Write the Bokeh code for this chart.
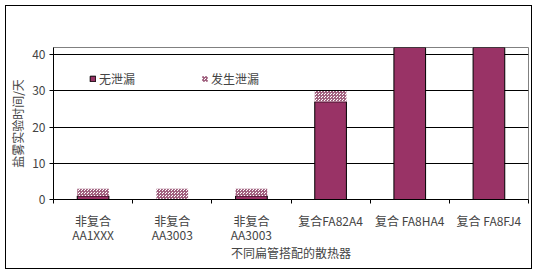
from bokeh.plotting import figure
from bokeh.layouts import column
from bokeh.models import ColumnDataSource, FixedTicker, Legend, LegendItem, Range1d
from bokeh.embed import file_html
from bokeh.resources import INLINE

categories = ["非复合\nAA1XXX", "非复合\nAA3003", "非复合\nAA3003", "复合FA82A4", "复合 FA8HA4", "复合 FA8FJ4"]
no_leak = [1, 0, 1, 27, 42, 42]
leak = [2, 3, 2, 3, 0, 0]
y_ticks = [0, 10, 20, 30, 40]

xs = list(range(len(categories)))
top1 = no_leak
top2 = [a + b for a, b in zip(no_leak, leak)]
src = ColumnDataSource(dict(x=xs, b1=[0] * len(xs), t1=top1, b2=top1, t2=top2))

FONT = "Noto Sans CJK SC"
p = figure(width=525, height=262, output_backend="svg", toolbar_location=None,
           x_range=Range1d(-0.5, len(categories) - 0.5), y_range=Range1d(0, 42),
           min_border_left=45, min_border_right=3, min_border_top=41, min_border_bottom=69)

r1 = p.vbar(x="x", bottom="b1", top="t1", width=0.4, source=src,
            fill_color="#993366", line_color="black", line_width=1)
r2 = p.vbar(x="x", bottom="b2", top="t2", width=0.4, source=src,
            fill_color="white", line_color=None,
            hatch_pattern="criss_cross", hatch_scale=3, hatch_color="#a0607e", hatch_weight=1)

p.outline_line_color = "#808080"
p.xgrid.grid_line_color = None
p.ygrid.grid_line_color = "black"
p.ygrid.grid_line_width = 1

p.yaxis.ticker = FixedTicker(ticks=y_ticks)
p.yaxis.axis_label = "盐雾实验时间/天"
p.yaxis.axis_label_text_font = FONT
p.yaxis.axis_label_text_font_size = "12px"
p.yaxis.axis_label_text_font_style = "normal"
p.yaxis.axis_label_standoff = 3
p.yaxis.major_label_text_font = FONT
p.yaxis.major_label_text_font_size = "12px"
p.yaxis.major_label_standoff = 4
p.yaxis.minor_tick_line_color = None
p.yaxis.major_tick_out = 4
p.yaxis.major_tick_in = 0
p.yaxis.axis_line_color = "black"

p.xaxis.ticker = FixedTicker(ticks=xs, minor_ticks=[i - 0.5 for i in range(len(categories) + 1)])
p.xaxis.major_label_overrides = {i: c for i, c in zip(xs, categories)}
p.xaxis.major_label_text_font = FONT
p.xaxis.major_label_text_font_size = "12px"
p.xaxis.major_label_text_line_height = 0.85
p.xaxis.major_label_standoff = 6
p.xaxis.major_tick_line_color = None
p.xaxis.minor_tick_out = 4
p.xaxis.minor_tick_in = 0
p.xaxis.minor_tick_line_color = "black"
p.xaxis.axis_line_color = "black"
p.xaxis.axis_label = "不同扁管搭配的散热器"
p.xaxis.axis_label_text_font = FONT
p.xaxis.axis_label_text_font_size = "12px"
p.xaxis.axis_label_text_font_style = "normal"
p.xaxis.axis_label_standoff = -2

legend = Legend(items=[LegendItem(label="无泄漏", renderers=[r1]),
                       LegendItem(label="发生泄漏", renderers=[r2])],
                location=(36, 112), orientation="horizontal",
                border_line_color=None, background_fill_alpha=0,
                padding=0, margin=0, spacing=66,
                glyph_width=7, glyph_height=7, label_standoff=3,
                label_text_font=FONT, label_text_font_size="12px")
p.add_layout(legend, "center")

layout = column(p, width=527, height=264, margin=(5, 0, 0, 5),
                styles={"border": "1px solid black", "box-sizing": "border-box"})

open("out.html", "w").write(file_html(layout, INLINE))
